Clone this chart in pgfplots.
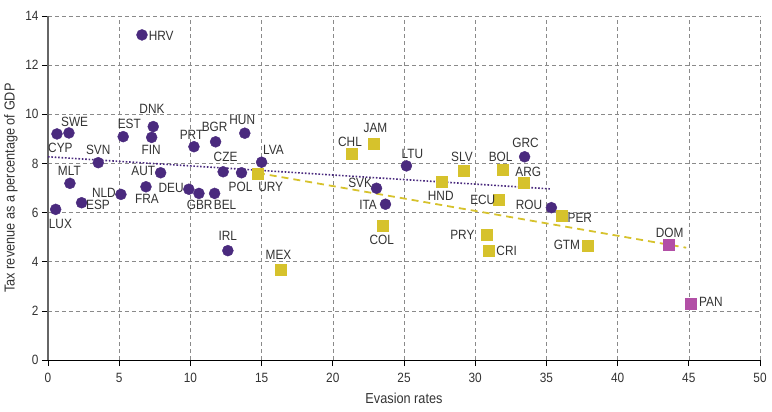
\documentclass[border=0pt]{standalone}
\usepackage{fontspec}
\setmainfont{Liberation Sans}[FakeStretch=0.88]
\usepackage{pgfplots}
\usepackage{pgfplotstable}
\pgfplotsset{compat=1.18}
\definecolor{cpurple}{HTML}{4A2A7E}
\definecolor{cyellow}{HTML}{D6C22C}
\definecolor{cmagenta}{HTML}{B24FA6}
\definecolor{cgrid}{HTML}{8A8A8A}
\definecolor{ctext}{HTML}{333333}

\pgfplotstableread{
x y
6.60 13.23
0.63 9.20
1.47 9.24
5.28 9.09
7.39 9.50
7.28 9.06
10.25 8.68
11.77 8.88
13.82 9.23
3.53 8.03
15.00 8.05
7.91 7.62
12.30 7.66
13.59 7.62
1.54 7.19
6.88 7.05
9.89 6.95
10.60 6.78
11.70 6.78
5.12 6.74
2.36 6.40
0.54 6.13
12.63 4.45
25.17 7.90
23.07 6.99
23.70 6.34
33.47 8.27
35.35 6.20
}\europe

\pgfplotstableread{
x y
14.76 7.60
21.35 8.38
22.90 8.82
23.53 5.45
16.33 3.69
27.67 7.26
29.21 7.69
31.95 7.76
33.42 7.23
31.67 6.54
36.09 5.86
30.83 5.09
30.97 4.44
37.92 4.65
}\latam

\pgfplotstableread{
x y
43.60 4.68
45.10 2.31
}\carib

\pgfplotstableread{
x y l
7.95 13.21 HRV
1.87 9.70 SWE
0.87 8.62 CYP
5.71 9.60 EST
7.30 10.23 DNK
7.25 8.55 FIN
10.08 9.16 PRT
11.70 9.50 BGR
13.64 9.77 HUN
3.53 8.55 SVN
15.83 8.55 LVA
1.50 7.69 MLT
6.69 7.69 AUT
12.47 8.25 CZE
13.52 7.03 POL
15.64 7.03 URY
3.93 6.81 NLD
6.95 6.55 FRA
8.65 6.99 DEU
10.65 6.31 GBR
12.44 6.31 BEL
3.51 6.31 ESP
0.87 5.55 LUX
12.63 5.05 IRL
23.00 9.43 JAM
21.21 8.89 CHL
25.59 8.37 LTU
21.92 7.19 SVK
22.48 6.31 ITA
23.44 4.88 COL
16.19 4.27 MEX
29.07 8.27 SLV
31.79 8.27 BOL
33.54 8.82 GRC
33.73 7.66 ARG
27.58 6.69 HND
30.53 6.51 ECU
33.78 6.31 ROU
37.35 5.77 PER
29.10 5.09 PRY
32.21 4.44 CRI
36.44 4.67 GTM
43.65 5.18 DOM
46.55 2.36 PAN
}\labels

\begin{document}
\begin{tikzpicture}
\useasboundingbox (-48bp,-52bp) rectangle (724bp,360bp);
\begin{axis}[
  at={(0,0)}, anchor=south west,
  scale only axis, width=712bp, height=344bp,
  xmin=0, xmax=50, ymin=0, ymax=14,
  xtick={0,5,...,50}, ytick={0,2,...,14},
  axis x line=bottom, axis y line=left,
  axis line style={-},
  x axis line style={black, line width=0.9pt},
  y axis line style={black!60, line width=1.1pt},
  tick align=outside, major tick length=6bp,
  tick style={black, line width=0.7pt},
  grid=major,
  grid style={cgrid, dash pattern=on 4bp off 3bp, line width=0.6pt},
  /pgf/number format/assume math mode=true,
  tick label style={font=\fontsize{13.5}{15}\selectfont, text=ctext},
  xticklabel style={yshift=-4bp},
  label style={font=\fontsize{14.5}{16}\selectfont, text=ctext},
  xlabel={Evasion rates},
  ylabel={Tax revenue as a percentage of GDP},
  xlabel style={at={(axis description cs:0.5,-0.125)}, anchor=base},
  ylabel style={at={(axis description cs:-0.052,0.5)}, anchor=center},
  clip=false,
]
\addplot[cpurple, only marks, mark=*, mark size=5.5bp] table {\europe};
\addplot[cyellow, only marks, mark=square*, mark size=5.5bp] table {\latam};
\addplot[cmagenta, only marks, mark=square*, mark size=5.5bp] table {\carib};
\addplot[cpurple, line width=1.6pt, dash pattern=on 1.6pt off 1.8pt, mark=none] coordinates {(0,8.27) (35.35,6.96)};
\addplot[cyellow, line width=1.8pt, dash pattern=on 7bp off 5bp, mark=none] coordinates {(14.74,7.61) (44.82,4.57)};
\addplot[draw=none, mark=none, nodes near coords, point meta=explicit symbolic,
  nodes near coords style={anchor=center, inner sep=0pt, font=\fontsize{13.5}{15}\selectfont, text=ctext}]
  table[meta=l] {\labels};
\end{axis}
\end{tikzpicture}
\end{document}
